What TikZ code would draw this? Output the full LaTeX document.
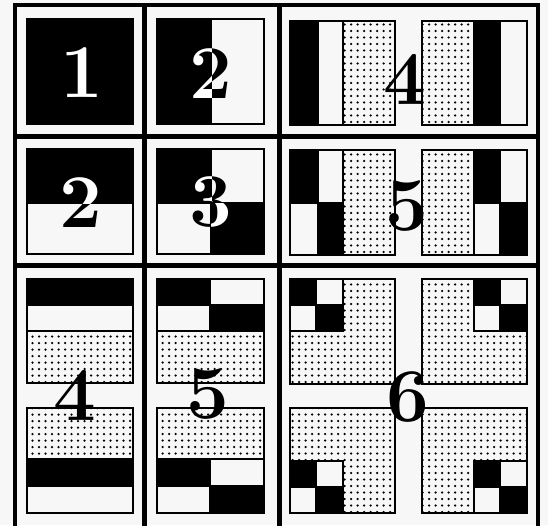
\documentclass[tikz,border=0pt]{standalone}
\usepackage{tikz}
\usetikzlibrary{patterns}
\usepackage{xcolor}

\definecolor{paper}{gray}{0.97}
% coarse dot screen for the grey patches
\pgfdeclarepatternformonly{bigdots}{\pgfqpoint{-2pt}{-2pt}}{\pgfqpoint{2pt}{2pt}}{\pgfqpoint{6.5pt}{6.5pt}}{%
  \pgfpathcircle{\pgfqpoint{0pt}{0pt}}{1.25pt}\pgfusepath{fill}}

\begin{document}
\begin{tikzpicture}[
  x=1pt, y=-1pt,
  blk/.style={fill=black, draw=black, line width=1.5pt},
  wht/.style={fill=paper, draw=black, line width=1.5pt},
  dotbox/.style={pattern=bigdots, draw=black, line width=1.5pt},
  digit/.style={font=\fontsize{76}{76}\selectfont\bfseries, inner sep=0pt},
  rule/.style={line width=5pt},
]
  % Paper
  \fill[paper] (0,0) rectangle (548,525);
  \useasboundingbox (0,0) rectangle (548,525);

  % Cell 1: all black
  \draw[blk] (27,19) rectangle (133,124);
  \node[digit, white] (one) at (82,73) {1};

  % Cell 2: black | white
  \draw[blk] (157,19) rectangle (211,124);
  \draw[wht] (211,19) rectangle (264,124);
  \node[digit] (twoA) at (211,74) {2};
  \begin{scope}
    \clip (157,19) rectangle (211,124);
    \node[digit, white] (twoAw) at (211,74) {2};
  \end{scope}

  % Cell 2: black over white
  \draw[blk] (27,149) rectangle (133,203);
  \draw[wht] (27,203) rectangle (133,254);
  \node[digit] (twoB) at (81,203) {2};
  \begin{scope}
    \clip (27,149) rectangle (133,203);
    \node[digit, white] (twoBw) at (81,203) {2};
  \end{scope}

  % Cell 3: checker
  \draw[blk] (157,149) rectangle (211,203);
  \draw[wht] (211,149) rectangle (264,203);
  \draw[wht] (157,203) rectangle (211,254);
  \draw[blk] (211,203) rectangle (264,254);
  \node[digit] (three) at (211,202) {3};
  \begin{scope}
    \clip (157,149) rectangle (211,203) (211,203) rectangle (264,254);
    \node[digit, white] (threew) at (211,202) {3};
  \end{scope}

  % Cell 4 (wide): stripes
  \draw[blk] (290,21) rectangle (318,125);
  \draw[wht] (318,21) rectangle (343,125);
  \draw[dotbox] (343,21) rectangle (395,125);
  \draw[dotbox] (422,21) rectangle (474,125);
  \draw[blk] (474,21) rectangle (500,125);
  \draw[wht] (500,21) rectangle (527,125);
  \node[digit] (fourA) at (405,79) {4};

  % Cell 5 (wide): split stripes
  \foreach \xa/\xb/\top/\bot in {290/318/blk/wht, 318/343/wht/blk,
                                  474/500/blk/wht, 500/527/wht/blk} {
    \draw[\top] (\xa,150) rectangle (\xb,203);
    \draw[\bot] (\xa,203) rectangle (\xb,255);
  }
  \draw[dotbox] (343,150) rectangle (395,255);
  \draw[dotbox] (422,150) rectangle (474,255);
  \node[digit] (fiveA) at (407,206) {5};

  % Cell 4 (tall): bands
  \draw[blk] (27,279) rectangle (133,305);
  \draw[wht] (27,305) rectangle (133,331);
  \draw[dotbox] (27,331) rectangle (133,383);
  \draw[dotbox] (27,408) rectangle (133,459);
  \draw[blk] (27,459) rectangle (133,486);
  \draw[wht] (27,486) rectangle (133,513);
  \node[digit] (fourB) at (75,395) {4};

  % Cell 5 (tall): split bands
  \foreach \ya/\yb/\lft/\rgt in {279/305/blk/wht, 305/331/wht/blk,
                                 459/486/blk/wht, 486/513/wht/blk} {
    \draw[\lft] (157,\ya) rectangle (210,\yb);
    \draw[\rgt] (210,\ya) rectangle (264,\yb);
  }
  \draw[dotbox] (157,331) rectangle (264,383);
  \draw[dotbox] (157,408) rectangle (264,459);
  \node[digit] (fiveB) at (208,394) {5};

  % Cell 6: four dotted blocks with a checker in the outer corner
  \foreach \xa/\ya/\cx/\cy in {290/279/290/279, 422/279/474/279,
                               290/408/290/461, 422/408/474/461} {
    \draw[dotbox] (\xa,\ya) rectangle ++(105,105);
    \draw[blk] (\cx,\cy) rectangle ++(26,26);
    \draw[wht] (\cx+26,\cy) rectangle ++(27,26);
    \draw[wht] (\cx,\cy+26) rectangle ++(26,26);
    \draw[blk] (\cx+26,\cy+26) rectangle ++(27,26);
  }
  \node[digit] (six) at (408,397) {6};

  % Frame and dividers
  \draw[rule, line width=4.5pt] (15,527) -- (15,5) -- (538,5) -- (538,527);
  \draw[rule] (144,5) -- (144,527);
  \draw[rule] (279.5,5) -- (279.5,527);
  \draw[rule] (15,136) -- (538,136);
  \draw[rule] (15,265) -- (538,265);
\end{tikzpicture}
\end{document}
